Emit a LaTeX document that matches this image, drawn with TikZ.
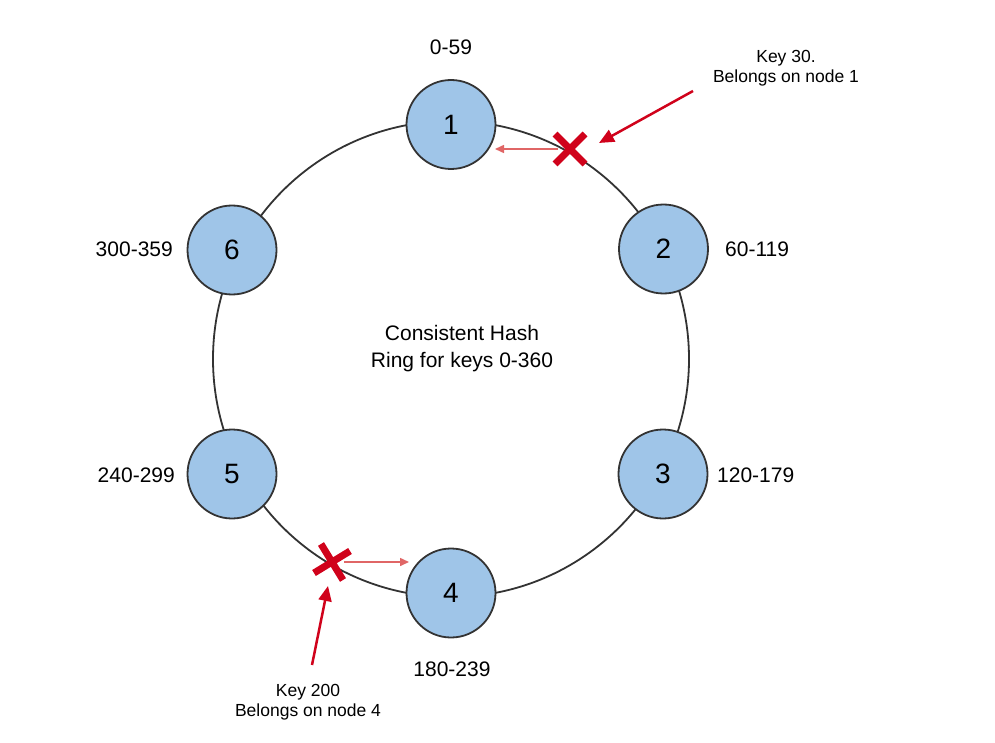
\documentclass[tikz,border=0pt]{standalone}
\usepackage{fontspec}
\setmainfont{Liberation Sans}
\usetikzlibrary{arrows.meta}
\definecolor{nodefill}{HTML}{9FC5E8}
\definecolor{ringgray}{HTML}{333333}
\definecolor{keyred}{HTML}{D0021B}
\definecolor{lightred}{HTML}{E06666}
\begin{document}
\begin{tikzpicture}[x=1pt,y=-1pt,
  hashnode/.style={circle,draw=ringgray,line width=1.8pt,fill=nodefill,minimum size=89pt,inner sep=0pt,font=\fontsize{28}{32}\selectfont},
  rangelbl/.style={font=\fontsize{21}{25}\selectfont,inner sep=0pt},
  keylbl/.style={font=\fontsize{17.5}{20}\selectfont,align=center,inner sep=0pt,anchor=base},
  crossmark/.style={draw=keyred,line width=7pt},
  bigarrow/.style={draw=keyred,line width=2.5pt,-{Triangle[length=15pt,width=13pt]}},
  smallarrow/.style={draw=lightred,line width=1.5pt,-{Triangle[length=9pt,width=8pt]}}]
\useasboundingbox (0,0) rectangle (995,743);
% ring
\coordinate (ringc) at (451,359);
\draw[ringgray,line width=1.8pt] (ringc) circle[radius=238];
% nodes
\node[hashnode] (n1) at (451,124.5) {1};
\node[hashnode] (n2) at (663.5,249) {2};
\node[hashnode] (n3) at (663,474) {3};
\node[hashnode] (n4) at (451,593) {4};
\node[hashnode] (n5) at (232,474) {5};
\node[hashnode] (n6) at (232,250) {6};
% range labels
\node[rangelbl,anchor=base] (r1) at (451,55) {0-59};
\node[rangelbl,anchor=base west] (r2) at (725,256) {60-119};
\node[rangelbl,anchor=base west] (r3) at (717,482) {120-179};
\node[rangelbl,anchor=base] (r4) at (452,676) {180-239};
\node[rangelbl,anchor=base east] (r5) at (175,482) {240-299};
\node[rangelbl,anchor=base east] (r6) at (173,256) {300-359};
% center text
\node[font=\fontsize{21}{27}\selectfont,align=center,inner sep=0pt,anchor=base] (title) at (462,367) {Consistent Hash\\Ring for keys 0-360};
% key 30
\coordinate (x1) at (570,149);
\draw[crossmark] (555,134) -- (585,164);
\draw[crossmark] (585,134) -- (555,164);
\coordinate (x1l) at (558,149);
\coordinate (n1r) at (495,149);
\draw[smallarrow] (x1l) -- (n1r);
\node[keylbl] (k30) at (786,83) {Key 30.\\Belongs on node 1};
\coordinate (k30s) at (693,91);
\coordinate (k30t) at (599,143);
\draw[bigarrow] (k30s) -- (k30t);
% key 200
\coordinate (x2) at (332,562);
\draw[crossmark] (314,573) -- (350,551);
\draw[crossmark] (321,544) -- (343,580);
\coordinate (x2r) at (344,562);
\coordinate (n4l) at (409,562);
\draw[smallarrow] (x2r) -- (n4l);
\node[keylbl] (k200) at (308,716) {Key 200\\Belongs on node 4};
\coordinate (k200s) at (312,665);
\coordinate (k200t) at (328,586);
\draw[bigarrow] (k200s) -- (k200t);
\end{tikzpicture}
\end{document}
